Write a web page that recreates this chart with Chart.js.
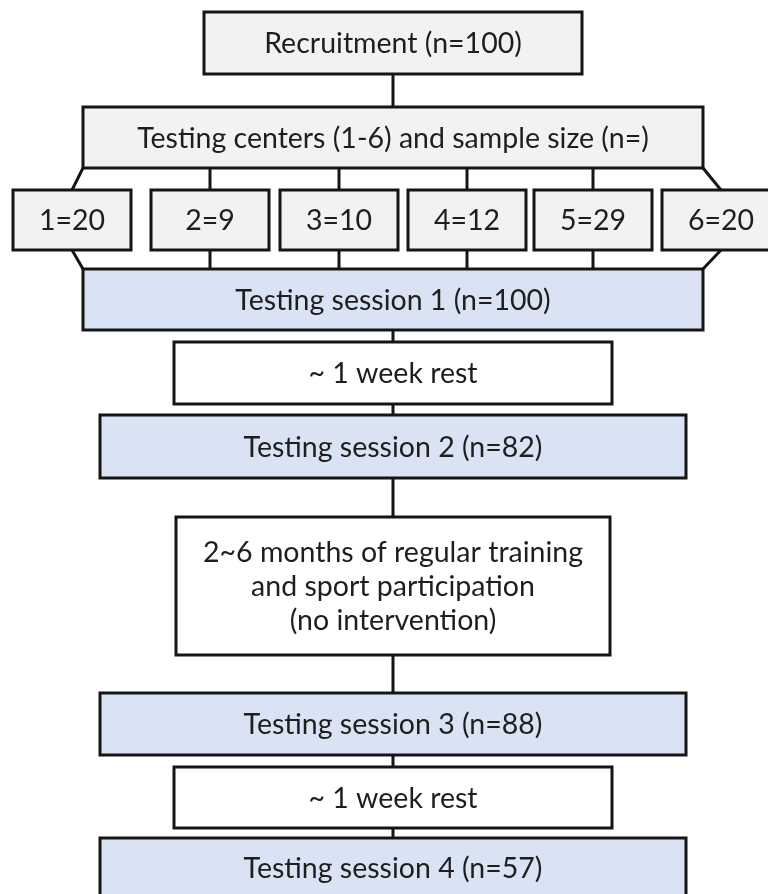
<!DOCTYPE html>
<html>
<head>
<meta charset="utf-8">
<script src="https://cdn.jsdelivr.net/npm/chart.js@4.4.1/dist/chart.umd.min.js"></script>
<style>
    html, body { margin: 0; padding: 0; background: #fff; }
    canvas { display: block; }
</style>
</head>
<body>
<canvas id="flowChart" width="768" height="894"></canvas>
<script>
// study numbers
const recruited = 100;
const centerIds = [1, 2, 3, 4, 5, 6];
const centerN = [20, 9, 10, 12, 29, 20];
const sessionIds = [1, 2, 3, 4];
const sessionN = [100, 82, 88, 57];
const restText = '~ 1 week rest';
const trainingText = ['2~6 months of regular training', 'and sport participation', '(no intervention)'];

// layout, in the hidden axes' units (x 0-768, y 0-894 top down)
const trunkX = 393;
const centerLeft = [13, 151, 280, 408, 534, 662];
const centerWidth = 118;
const centerRow = [190, 250];

const GREY = '#f2f2f2';
const BLUE = '#dae3f3';
const WHITE = '#ffffff';
const INK = '#151515';

function box(x0, x1, y0, y1, fill, lines) {
    return {x0, x1, y0, y1, fill, lines};
}

// main column, top to bottom
const stack = [
    box(204, 582, 12, 74, GREY, [`Recruitment (n=${recruited})`]),
    box(83, 703, 107, 168, GREY, [`Testing centers (${centerIds[0]}-${centerIds[centerIds.length - 1]}) and sample size (n=)`]),
    box(83, 703, 269, 330, BLUE, [`Testing session ${sessionIds[0]} (n=${sessionN[0]})`]),
    box(174, 612, 342, 404, WHITE, [restText]),
    box(100, 686, 415, 478, BLUE, [`Testing session ${sessionIds[1]} (n=${sessionN[1]})`]),
    box(176, 610, 517, 655, WHITE, trainingText),
    box(100, 686, 693, 755, BLUE, [`Testing session ${sessionIds[2]} (n=${sessionN[2]})`]),
    box(174, 612, 767, 828, WHITE, [restText]),
    box(100, 686, 838, 897, BLUE, [`Testing session ${sessionIds[3]} (n=${sessionN[3]})`]),
];

const centerBoxes = centerIds.map((id, i) =>
    box(centerLeft[i], centerLeft[i] + centerWidth, centerRow[0], centerRow[1], GREY, [`${id}=${centerN[i]}`]));

// connector segments
const segments = [];
const header = stack[1];
const session1 = stack[2];
for (let i = 0; i < stack.length - 1; i++) {
    if (i === 1) continue; // header -> session 1 goes through the centers
    segments.push([{x: trunkX, y: stack[i].y1}, {x: trunkX, y: stack[i + 1].y0}]);
}
centerBoxes.forEach(b => {
    const mid = (b.x0 + b.x1) / 2;
    const clampTop = Math.min(Math.max(mid, header.x0), header.x1);
    const clampBottom = Math.min(Math.max(mid, session1.x0), session1.x1);
    segments.push([{x: clampTop, y: header.y1}, {x: mid, y: b.y0}]);
    segments.push([{x: mid, y: b.y1}, {x: clampBottom, y: session1.y0}]);
});

const allBoxes = stack.concat(centerBoxes);

const boxPlugin = {
    id: 'boxes',
    afterDatasetsDraw(chart) {
        const {ctx, scales: {x, y}} = chart;
        ctx.save();
        ctx.font = '28.5px Lato';
        ctx.textAlign = 'center';
        ctx.textBaseline = 'middle';
        allBoxes.forEach(b => {
            const left = x.getPixelForValue(b.x0);
            const right = x.getPixelForValue(b.x1);
            const top = y.getPixelForValue(b.y0);
            const bottom = y.getPixelForValue(b.y1);
            ctx.fillStyle = b.fill;
            ctx.fillRect(left, top, right - left, bottom - top);
            ctx.lineWidth = 3;
            ctx.strokeStyle = INK;
            ctx.strokeRect(left, top, right - left, bottom - top);
            ctx.fillStyle = '#1e1e1e';
            const lineH = 34;
            const cy = (top + bottom) / 2 + 1 - (b.lines.length - 1) * lineH / 2;
            b.lines.forEach((t, k) => ctx.fillText(t, (left + right) / 2, cy + k * lineH));
        });
        ctx.restore();
    }
};

const config = {
    type: 'line',
    data: {
        datasets: segments.map(seg => ({
            data: seg,
            borderColor: INK,
            borderWidth: 3,
            pointRadius: 0,
            fill: false,
        })),
    },
    options: {
        responsive: false,
        animation: false,
        layout: { padding: 0 },
        scales: {
            x: { type: 'linear', min: 0, max: 768, display: false },
            y: { type: 'linear', min: 0, max: 894, reverse: true, display: false },
        },
        plugins: {
            legend: { display: false },
            tooltip: { enabled: false },
        },
    },
    plugins: [boxPlugin],
};

const flowChart = new Chart(document.getElementById('flowChart'), config);
</script>
</body>
</html>
